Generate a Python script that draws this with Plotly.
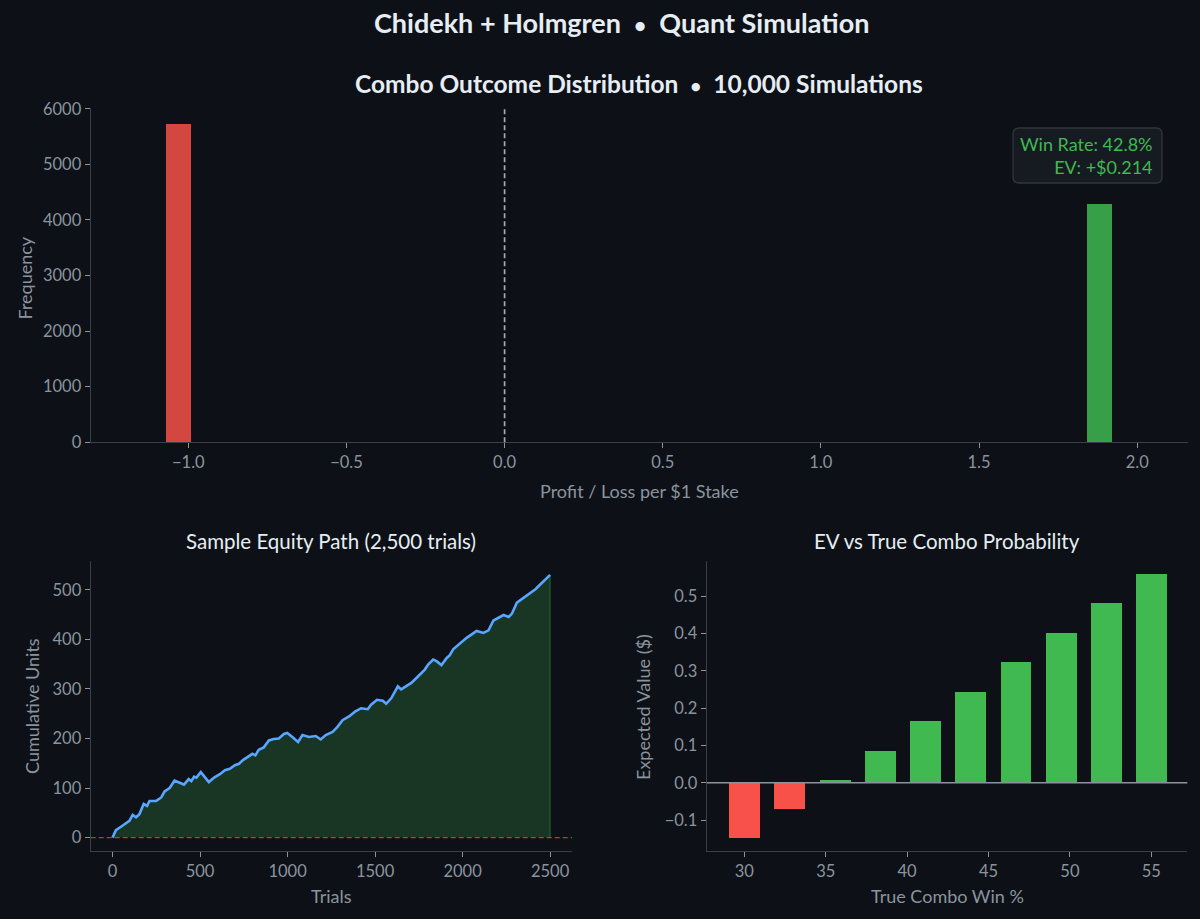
import plotly.graph_objects as go

# ---------------- data ----------------
# Histogram of profit/loss per $1 stake (10,000 sims)
outcome_centers = [-1.031, 1.880]
outcome_counts = [5720, 4280]
outcome_colors = ["rgba(248,81,73,0.85)", "rgba(63,185,80,0.85)"]

# Sample equity path
trial_idx = [0, 19, 48, 76, 96, 115, 134, 153, 178, 197, 211, 249, 278, 297, 326, 354, 377, 408,
             435, 450, 466, 479, 504, 527, 550, 580, 613, 642, 670, 699, 722, 747, 776, 799, 816,
             835, 864, 893, 921, 950, 979, 998, 1027, 1060, 1085, 1122, 1161, 1189, 1218, 1257,
             1286, 1314, 1353, 1385, 1420, 1458, 1477, 1511, 1544, 1563, 1592, 1630, 1649, 1707,
             1736, 1765, 1784, 1803, 1832, 1851, 1879, 1908, 1927, 1946, 1966, 1994, 2023, 2052,
             2080, 2119, 2148, 2176, 2205, 2234, 2263, 2282, 2310, 2339, 2378, 2416, 2445, 2473, 2500]
cum_units = [0, 15, 22, 28, 34, 46, 41, 47, 68, 64, 74, 74, 81, 93, 100, 115, 112, 107,
             118, 114, 123, 121, 132, 121, 112, 121, 128, 136, 139, 146, 149, 157, 163, 169, 166,
             177, 182, 196, 199, 200, 209, 211, 203, 193, 207, 203, 205, 198, 207, 213,
             224, 237, 245, 254, 261, 259, 268, 278, 276, 270, 281, 305, 299, 312,
             322, 332, 339, 349, 359, 356, 348, 362, 368, 380, 386, 396, 403, 410,
             417, 413, 418, 438, 444, 449, 445, 452, 474, 481, 491, 501, 511, 521, 530]

# EV vs true combo probability
true_win_pct = [30.0, 32.78, 35.56, 38.33, 41.11, 43.89, 46.67, 49.44, 52.22, 55.0]
ev_values = [-0.148, -0.069, 0.008, 0.086, 0.165, 0.244, 0.323, 0.402, 0.481, 0.560]

# ---------------- style ----------------
BG = "#0d1117"
SPINE = "#3a4048"
TICK = "#8b949e"
TITLE = "#e6edf3"
GREEN = "#3fb950"
RED = "#f85149"
BLUE = "#58a6ff"
FONT = "Lato"

W, H = 1200, 919


def px_x(p):
    return p / W


def px_y(p):
    return 1 - p / H


fig = go.Figure()

# Histogram bars
fig.add_trace(go.Bar(x=outcome_centers, y=outcome_counts, width=0.08,
                     marker=dict(color=outcome_colors, line=dict(width=0)),
                     xaxis="x", yaxis="y", showlegend=False))

# Equity path: fill + line, right fill edge, dashed zero line on top
fig.add_trace(go.Scatter(x=trial_idx, y=cum_units, mode="lines", fill="tozeroy",
                         fillcolor="rgba(63,185,80,0.22)",
                         line=dict(color=BLUE, width=2.6),
                         xaxis="x2", yaxis="y2", showlegend=False))
fig.add_trace(go.Scatter(x=[trial_idx[-1], trial_idx[-1]], y=[0, cum_units[-1]], mode="lines",
                         line=dict(color="rgba(63,185,80,0.45)", width=1),
                         xaxis="x2", yaxis="y2", showlegend=False))
fig.add_trace(go.Scatter(x=[-125, 2625], y=[0, 0], mode="lines",
                         line=dict(color="rgba(248,81,73,0.7)", width=1.4, dash="5px,3px"),
                         xaxis="x2", yaxis="y2", showlegend=False))

# EV bars
fig.add_trace(go.Bar(x=true_win_pct, y=ev_values, width=1.9,
                     marker=dict(color=[GREEN if v > 0 else RED for v in ev_values], line=dict(width=0)),
                     xaxis="x3", yaxis="y3", showlegend=False))


def axis_common(**kw):
    d = dict(showgrid=False, zeroline=False, showline=True, linecolor=SPINE, linewidth=1.3,
             ticks="outside", ticklen=5, tickwidth=1, tickcolor=TICK, automargin=False,
             tickfont=dict(family=FONT, size=16.5, color=TICK), mirror=False)
    d.update(kw)
    return d


fig.update_layout(
    template="none",
    width=W, height=H, paper_bgcolor=BG, plot_bgcolor=BG,
    margin=dict(l=0, r=0, t=0, b=0, pad=0), showlegend=False, bargap=0,
    xaxis=axis_common(domain=[px_x(90.7), px_x(1187.7)], range=[-1.3086, 2.1597],
                      tickvals=[-1.0, -0.5, 0.0, 0.5, 1.0, 1.5, 2.0],
                      ticktext=["\u22121.0", "\u22120.5", "0.0", "0.5", "1.0", "1.5", "2.0"],
                      anchor="y"),
    yaxis=axis_common(domain=[px_y(442.3), px_y(108)], range=[0, 6013],
                      tickvals=[0, 1000, 2000, 3000, 4000, 5000, 6000], anchor="x"),
    xaxis2=axis_common(domain=[px_x(90.7), px_x(572)], range=[-125, 2625],
                       tickvals=[0, 500, 1000, 1500, 2000, 2500], anchor="y2"),
    yaxis2=axis_common(domain=[px_y(851), px_y(561)], range=[-27, 558],
                       tickvals=[0, 100, 200, 300, 400, 500], anchor="x2"),
    xaxis3=axis_common(domain=[px_x(706.7), px_x(1187.3)], range=[27.69, 57.21],
                       tickvals=[30, 35, 40, 45, 50, 55], anchor="y3"),
    yaxis3=axis_common(domain=[px_y(851), px_y(561)], range=[-0.183, 0.595],
                       tickvals=[-0.1, 0.0, 0.1, 0.2, 0.3, 0.4, 0.5],
                       ticktext=["\u22120.1", "0.0", "0.1", "0.2", "0.3", "0.4", "0.5"],
                       anchor="x3"),
)

# Reference lines
fig.add_shape(type="line", xref="x", yref="y domain", x0=0, x1=0, y0=0, y1=1,
              line=dict(color="rgba(201,209,217,0.8)", width=1.7, dash="5px,3px"))
fig.add_shape(type="line", xref="x3 domain", yref="y3", x0=0, x1=1, y0=0, y1=0,
              line=dict(color=TICK, width=1.6))

# Stats box (rounded)
bx0, bx1, by0, by1, r = 1013, 1162, 128, 183, 6
path = (f"M {px_x(bx0 + r)},{px_y(by0)} L {px_x(bx1 - r)},{px_y(by0)} "
        f"Q {px_x(bx1)},{px_y(by0)} {px_x(bx1)},{px_y(by0 + r)} "
        f"L {px_x(bx1)},{px_y(by1 - r)} Q {px_x(bx1)},{px_y(by1)} {px_x(bx1 - r)},{px_y(by1)} "
        f"L {px_x(bx0 + r)},{px_y(by1)} Q {px_x(bx0)},{px_y(by1)} {px_x(bx0)},{px_y(by1 - r)} "
        f"L {px_x(bx0)},{px_y(by0 + r)} Q {px_x(bx0)},{px_y(by0)} {px_x(bx0 + r)},{px_y(by0)} Z")
fig.add_shape(type="path", xref="paper", yref="paper", path=path,
              fillcolor="#161b22", line=dict(color="#30363d", width=1.3))
fig.add_annotation(xref="paper", yref="paper", x=px_x(1155), y=px_y(155.5),
                   xanchor="right", yanchor="middle", align="right", showarrow=False,
                   text="Win Rate: 42.8%<br>EV: +$0.214",
                   font=dict(family=FONT, size=18, color=GREEN))


def label(text, x, y, size, color, bold=False, angle=0):
    fig.add_annotation(xref="paper", yref="paper", x=px_x(x), y=px_y(y),
                       xanchor="center", yanchor="middle", showarrow=False, textangle=angle,
                       text=f"<b>{text}</b>" if bold else text,
                       font=dict(family=FONT, size=size, color=color))


BUL = '<span style="font-size:21px">\u2022</span>'
label(f"Chidekh + Holmgren  {BUL}  Quant Simulation", 621, 23, 27, TITLE, bold=True)
BUL2 = '<span style="font-size:19px">\u2022</span>'
label(f"Combo Outcome Distribution  {BUL2}  10,000 Simulations", 639, 83, 24.5, TITLE, bold=True)
label("Sample Equity Path (2,500 trials)", 331, 541, 20.5, TITLE)
label("EV vs True Combo Probability", 947, 541, 20.5, TITLE)

label("Frequency", 24.5, 278, 18, TICK, angle=-90)
label("Profit / Loss per $1 Stake", 639, 491, 18, TICK)
label("Cumulative Units", 32, 706, 18, TICK, angle=-90)
label("Trials", 331, 896, 18, TICK)
label("Expected Value ($)", 643, 707, 18, TICK, angle=-90)
label("True Combo Win %", 947, 896, 18, TICK)

fig.write_html("out.html")
